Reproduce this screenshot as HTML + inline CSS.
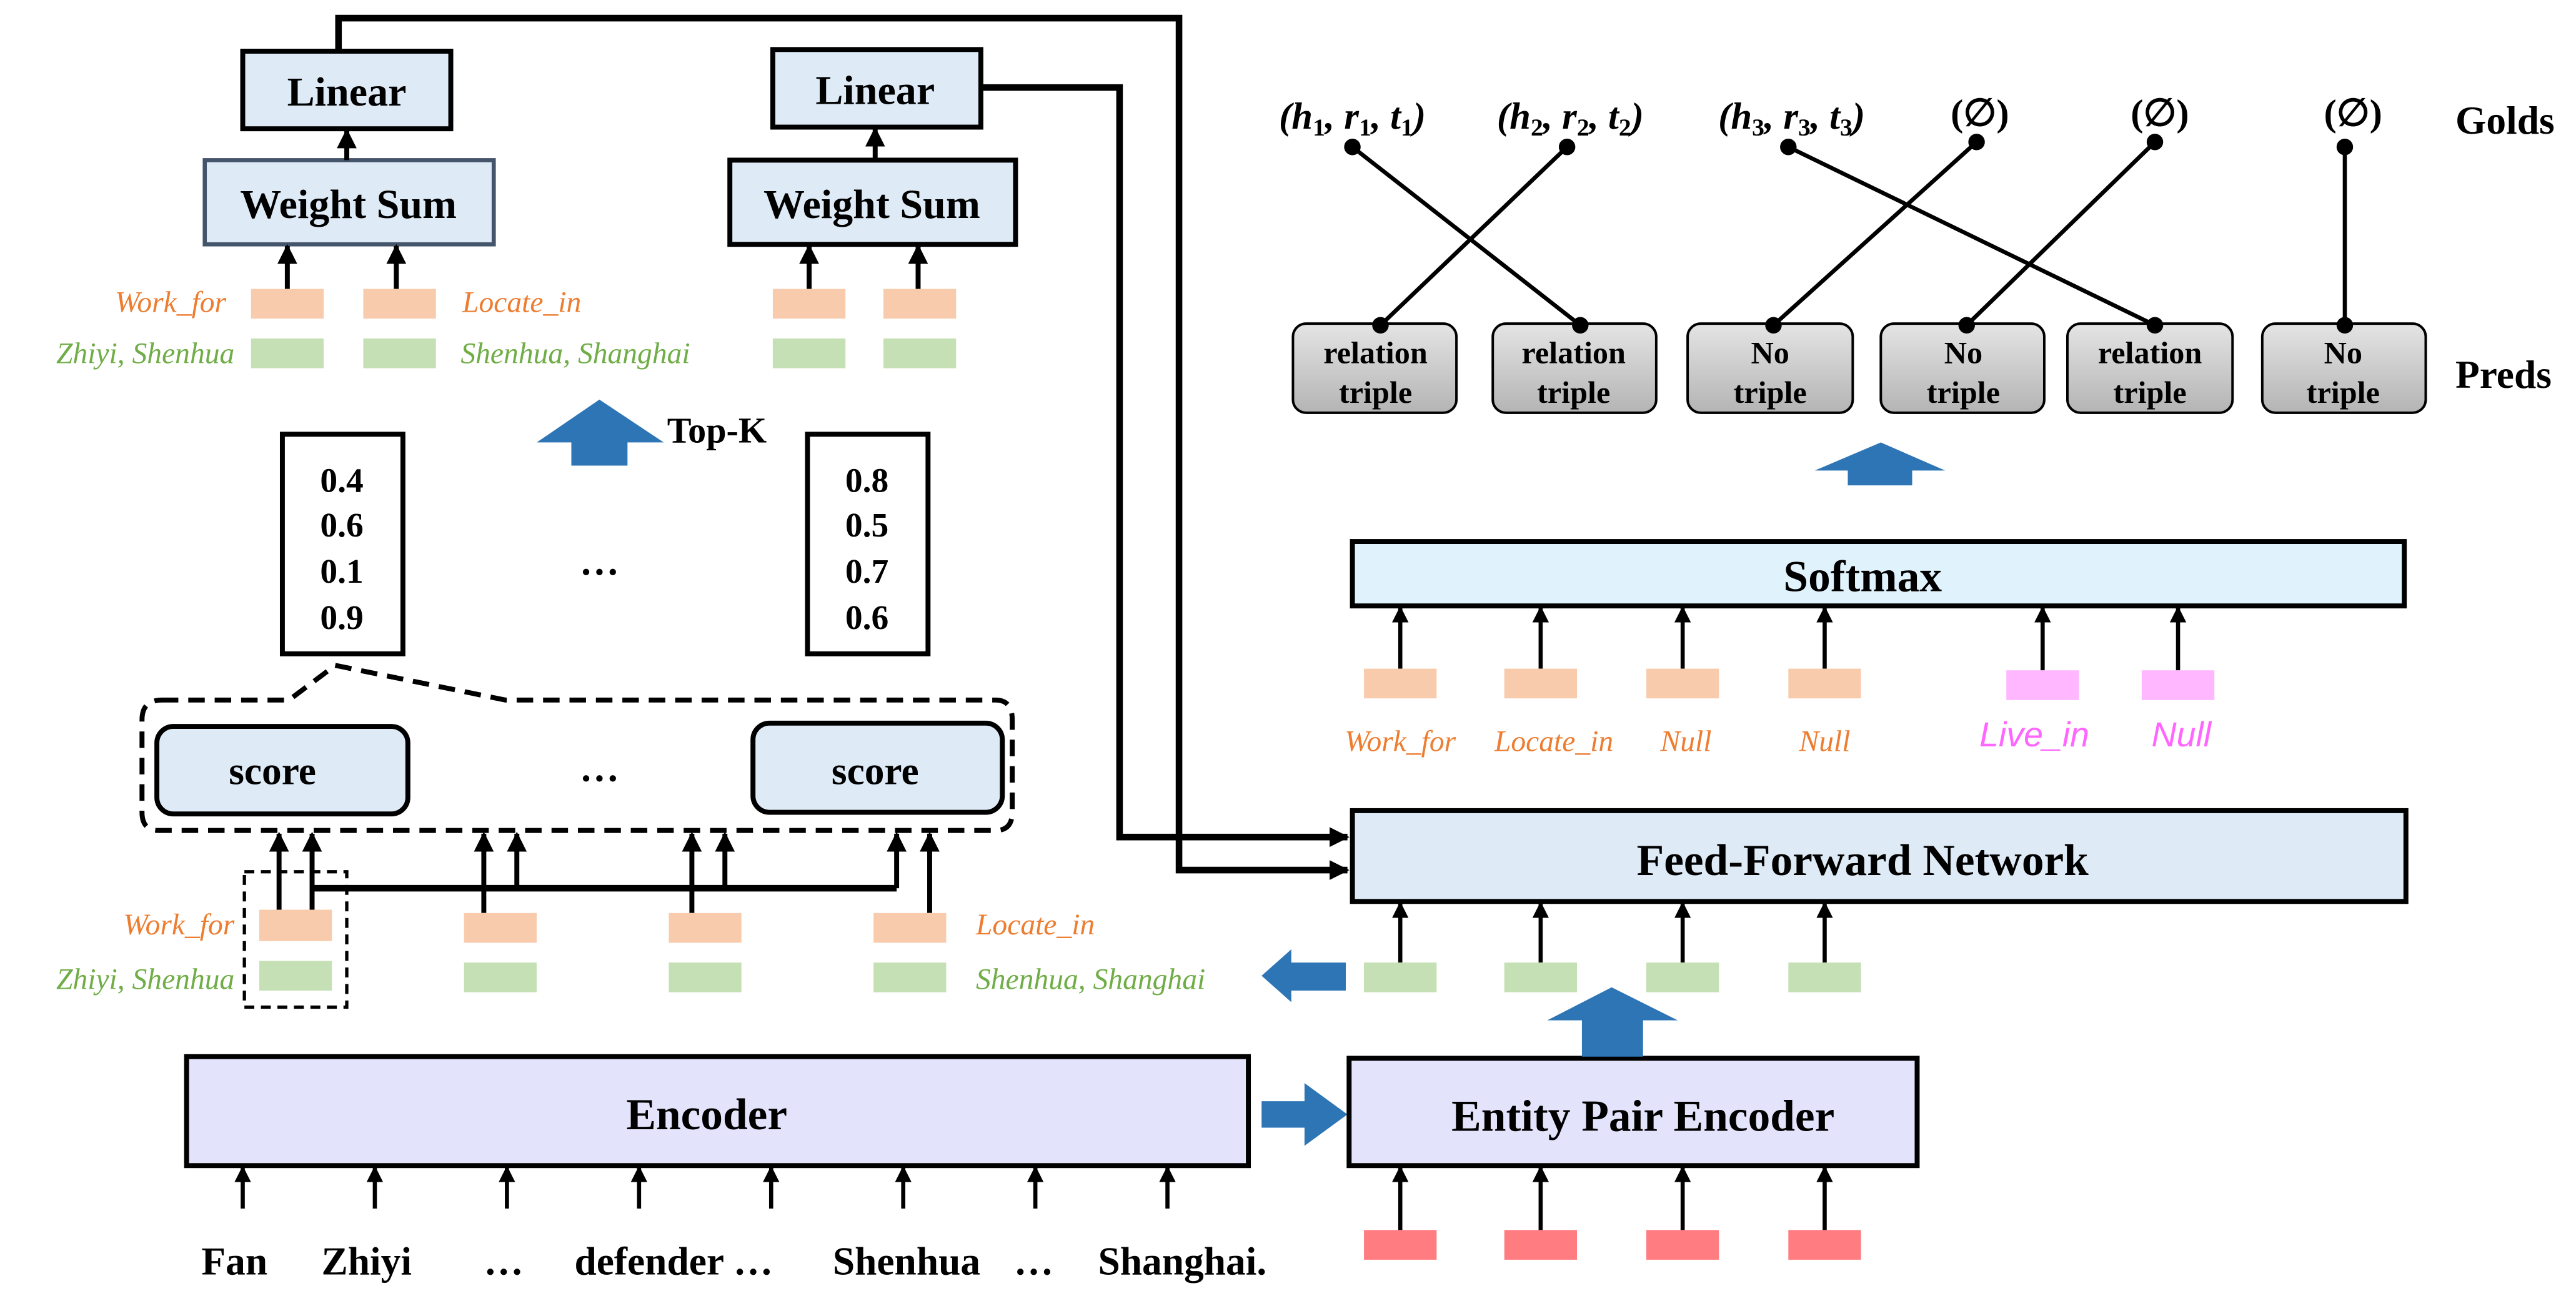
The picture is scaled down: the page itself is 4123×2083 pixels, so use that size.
<!DOCTYPE html>
<html><head><meta charset="utf-8"><style>
html,body{margin:0;padding:0;background:#fff;}
svg{display:block;}
.b{font-family:"Liberation Serif",serif;font-weight:bold;fill:#000;}
.o{font-family:"Liberation Serif",serif;font-style:italic;fill:#ed7d31;font-size:18px;}
.g{font-family:"Liberation Serif",serif;font-style:italic;fill:#70ad47;font-size:18px;}
.p{font-family:"Liberation Sans",sans-serif;font-style:italic;fill:#ff66ff;font-size:21px;}
.m{font-family:"Liberation Serif",serif;font-style:italic;font-weight:bold;font-size:23px;}
</style></head><body>
<svg width="4123" height="2083" viewBox="0 0 1560 788" preserveAspectRatio="none" xmlns="http://www.w3.org/2000/svg">
<defs>
<marker id="ah" viewBox="0 0 10 10" refX="9" refY="5" markerWidth="4" markerHeight="5" orient="auto" markerUnits="strokeWidth"><path d="M0,0L10,5L0,10z" fill="#000"/></marker>
<marker id="ah2" viewBox="0 0 10 10" refX="9" refY="5" markerWidth="3" markerHeight="3.5" orient="auto" markerUnits="strokeWidth"><path d="M0,0L10,5L0,10z" fill="#000"/></marker>
<linearGradient id="gr" x1="0" y1="0" x2="0" y2="1"><stop offset="0" stop-color="#e4e4e4"/><stop offset="1" stop-color="#b4b4b4"/></linearGradient>
</defs>

<polyline points="205,31 205,11 714,11 714,527 816,527" fill="none" stroke="#000" stroke-width="4" marker-end="url(#ah2)"/>
<polyline points="594,53 678,53 678,507 816,507" fill="none" stroke="#000" stroke-width="4" marker-end="url(#ah2)"/>

<rect x="147" y="31" width="126" height="47" fill="#deeaf6" stroke="#000" stroke-width="3"/>
<text x="210" y="64" class="b" font-size="25" text-anchor="middle">Linear</text>
<rect x="124" y="97" width="175" height="51" fill="#deeaf6" stroke="#44546a" stroke-width="2.5"/>
<text x="211" y="132" class="b" font-size="25" text-anchor="middle">Weight Sum</text>
<line x1="210" y1="97" x2="210" y2="79" stroke="#000" stroke-width="3" marker-end="url(#ah)"/>
<line x1="174" y1="175" x2="174" y2="149" stroke="#000" stroke-width="3" marker-end="url(#ah)"/>
<line x1="240" y1="175" x2="240" y2="149" stroke="#000" stroke-width="3" marker-end="url(#ah)"/>
<rect x="152" y="175" width="44" height="18" fill="#f8cbad"/><rect x="220" y="175" width="44" height="18" fill="#f8cbad"/>
<rect x="152" y="205" width="44" height="18" fill="#c5e0b4"/><rect x="220" y="205" width="44" height="18" fill="#c5e0b4"/>
<text x="137" y="189" class="o" text-anchor="end">Work_for</text>
<text x="142" y="220" class="g" text-anchor="end">Zhiyi, Shenhua</text>
<text x="280" y="189" class="o">Locate_in</text>
<text x="279" y="220" class="g">Shenhua, Shanghai</text>

<rect x="468" y="30" width="126" height="47" fill="#deeaf6" stroke="#000" stroke-width="3"/>
<text x="530" y="63" class="b" font-size="25" text-anchor="middle">Linear</text>
<rect x="442" y="97" width="173" height="51" fill="#deeaf6" stroke="#000" stroke-width="3"/>
<text x="528" y="132" class="b" font-size="25" text-anchor="middle">Weight Sum</text>
<line x1="530" y1="97" x2="530" y2="78" stroke="#000" stroke-width="3" marker-end="url(#ah)"/>
<line x1="490" y1="175" x2="490" y2="149" stroke="#000" stroke-width="3" marker-end="url(#ah)"/>
<line x1="556" y1="175" x2="556" y2="149" stroke="#000" stroke-width="3" marker-end="url(#ah)"/>
<rect x="468" y="175" width="44" height="18" fill="#f8cbad"/><rect x="535" y="175" width="44" height="18" fill="#f8cbad"/>
<rect x="468" y="205" width="44" height="18" fill="#c5e0b4"/><rect x="535" y="205" width="44" height="18" fill="#c5e0b4"/>

<path d="M363,242 L402,268 L380,268 L380,282 L346,282 L346,268 L325,268 Z" fill="#2e75b6"/>
<text x="404" y="268" class="b" font-size="22">Top-K</text>

<rect x="171" y="263" width="73" height="133" fill="#fff" stroke="#000" stroke-width="3"/>
<g class="b" font-size="21" text-anchor="middle"><text x="207" y="298">0.4</text><text x="207" y="325">0.6</text><text x="207" y="353">0.1</text><text x="207" y="381">0.9</text></g>
<rect x="489" y="263" width="73" height="133" fill="#fff" stroke="#000" stroke-width="3"/>
<g class="b" font-size="21" text-anchor="middle"><text x="525" y="298">0.8</text><text x="525" y="325">0.5</text><text x="525" y="353">0.7</text><text x="525" y="381">0.6</text></g>
<text x="363" y="348" class="b" font-size="24" text-anchor="middle">…</text>

<path d="M98,424 L175,424 L203,403 L306,424 L603,424 Q613,424 613,436 L613,492 Q613,503 603,503 L96,503 Q86,503 86,492 L86,436 Q86,424 98,424 Z" fill="none" stroke="#000" stroke-width="3" stroke-dasharray="10,6"/>
<rect x="95" y="440" width="152" height="53" rx="10" fill="#deeaf6" stroke="#000" stroke-width="3"/>
<text x="165" y="475" class="b" font-size="24" text-anchor="middle">score</text>
<rect x="456" y="438" width="151" height="54" rx="10" fill="#deeaf6" stroke="#000" stroke-width="3"/>
<text x="530" y="475" class="b" font-size="24" text-anchor="middle">score</text>
<text x="363" y="473" class="b" font-size="24" text-anchor="middle">…</text>

<g stroke="#000" stroke-width="3" fill="none">
<line x1="189" y1="538" x2="543" y2="538" stroke-width="4"/>
<line x1="169" y1="551" x2="169" y2="505" marker-end="url(#ah)"/>
<line x1="189" y1="551" x2="189" y2="505" marker-end="url(#ah)"/>
<line x1="293" y1="553" x2="293" y2="505" marker-end="url(#ah)"/>
<line x1="313" y1="538" x2="313" y2="505" marker-end="url(#ah)"/>
<line x1="419" y1="553" x2="419" y2="505" marker-end="url(#ah)"/>
<line x1="439" y1="538" x2="439" y2="505" marker-end="url(#ah)"/>
<line x1="543" y1="538" x2="543" y2="505" marker-end="url(#ah)"/>
<line x1="563" y1="553" x2="563" y2="505" marker-end="url(#ah)"/>
</g>
<rect x="157" y="551" width="44" height="19" fill="#f8cbad"/><rect x="281" y="553" width="44" height="18" fill="#f8cbad"/><rect x="405" y="553" width="44" height="18" fill="#f8cbad"/><rect x="529" y="553" width="44" height="18" fill="#f8cbad"/>
<rect x="157" y="582" width="44" height="18" fill="#c5e0b4"/><rect x="281" y="583" width="44" height="18" fill="#c5e0b4"/><rect x="405" y="583" width="44" height="18" fill="#c5e0b4"/><rect x="529" y="583" width="44" height="18" fill="#c5e0b4"/>
<rect x="148" y="528" width="62" height="82" fill="none" stroke="#000" stroke-width="2" stroke-dasharray="6,4"/>
<text x="142" y="566" class="o" text-anchor="end">Work_for</text>
<text x="142" y="599" class="g" text-anchor="end">Zhiyi, Shenhua</text>
<text x="591" y="566" class="o">Locate_in</text>
<text x="591" y="599" class="g">Shenhua, Shanghai</text>

<path d="M764,591 L782,575 L782,583 L815,583 L815,600 L782,600 L782,607 Z" fill="#2e75b6"/>

<rect x="113" y="640" width="643" height="66" fill="#e3e3fb" stroke="#000" stroke-width="3"/>
<text x="428" y="684" class="b" font-size="27" text-anchor="middle">Encoder</text>
<g stroke="#000" stroke-width="2.5">
<line x1="147" y1="732" x2="147" y2="707" marker-end="url(#ah)"/><line x1="227" y1="732" x2="227" y2="707" marker-end="url(#ah)"/>
<line x1="307" y1="732" x2="307" y2="707" marker-end="url(#ah)"/><line x1="387" y1="732" x2="387" y2="707" marker-end="url(#ah)"/>
<line x1="467" y1="732" x2="467" y2="707" marker-end="url(#ah)"/><line x1="547" y1="732" x2="547" y2="707" marker-end="url(#ah)"/>
<line x1="627" y1="732" x2="627" y2="707" marker-end="url(#ah)"/><line x1="707" y1="732" x2="707" y2="707" marker-end="url(#ah)"/>
</g>
<g class="b" font-size="24" text-anchor="middle">
<text x="142" y="772">Fan</text><text x="222" y="772">Zhiyi</text><text x="305" y="772">…</text>
<text x="408" y="772">defender …</text><text x="549" y="772">Shenhua</text><text x="626" y="772">…</text><text x="716" y="772">Shanghai.</text>
</g>

<path d="M764,667 L790,667 L790,656 L816,675 L790,694 L790,683 L764,683 Z" fill="#2e75b6"/>

<rect x="817" y="641" width="344" height="65" fill="#e3e3fb" stroke="#000" stroke-width="3"/>
<text x="995" y="685" class="b" font-size="27" text-anchor="middle">Entity Pair Encoder</text>
<g stroke="#000" stroke-width="2.5">
<line x1="848" y1="745" x2="848" y2="707" marker-end="url(#ah)"/><line x1="933" y1="745" x2="933" y2="707" marker-end="url(#ah)"/>
<line x1="1019" y1="745" x2="1019" y2="707" marker-end="url(#ah)"/><line x1="1105" y1="745" x2="1105" y2="707" marker-end="url(#ah)"/>
</g>
<rect x="826" y="745" width="44" height="18" fill="#ff7c80"/><rect x="911" y="745" width="44" height="18" fill="#ff7c80"/><rect x="997" y="745" width="44" height="18" fill="#ff7c80"/><rect x="1083" y="745" width="44" height="18" fill="#ff7c80"/>

<path d="M976,598 L1016,618 L995,618 L995,640 L958,640 L958,618 L937,618 Z" fill="#2e75b6"/>

<g stroke="#000" stroke-width="2.5">
<line x1="848" y1="583" x2="848" y2="547" marker-end="url(#ah)"/><line x1="933" y1="583" x2="933" y2="547" marker-end="url(#ah)"/>
<line x1="1019" y1="583" x2="1019" y2="547" marker-end="url(#ah)"/><line x1="1105" y1="583" x2="1105" y2="547" marker-end="url(#ah)"/>
</g>
<rect x="826" y="583" width="44" height="18" fill="#c5e0b4"/><rect x="911" y="583" width="44" height="18" fill="#c5e0b4"/><rect x="997" y="583" width="44" height="18" fill="#c5e0b4"/><rect x="1083" y="583" width="44" height="18" fill="#c5e0b4"/>

<rect x="819" y="491" width="638" height="55" fill="#deeaf6" stroke="#000" stroke-width="3"/>
<text x="1128" y="530" class="b" font-size="27" text-anchor="middle">Feed-Forward Network</text>

<g stroke="#000" stroke-width="2.5">
<line x1="848" y1="405" x2="848" y2="368" marker-end="url(#ah)"/><line x1="933" y1="405" x2="933" y2="368" marker-end="url(#ah)"/>
<line x1="1019" y1="405" x2="1019" y2="368" marker-end="url(#ah)"/><line x1="1105" y1="405" x2="1105" y2="368" marker-end="url(#ah)"/>
<line x1="1237" y1="406" x2="1237" y2="368" marker-end="url(#ah)"/><line x1="1319" y1="406" x2="1319" y2="368" marker-end="url(#ah)"/>
</g>
<rect x="826" y="405" width="44" height="18" fill="#f8cbad"/><rect x="911" y="405" width="44" height="18" fill="#f8cbad"/><rect x="997" y="405" width="44" height="18" fill="#f8cbad"/><rect x="1083" y="405" width="44" height="18" fill="#f8cbad"/>
<rect x="1215" y="406" width="44" height="18" fill="#ffb7ff"/><rect x="1297" y="406" width="44" height="18" fill="#ffb7ff"/>
<text x="848" y="455" class="o" text-anchor="middle">Work_for</text>
<text x="941" y="455" class="o" text-anchor="middle">Locate_in</text>
<text x="1021" y="455" class="o" text-anchor="middle">Null</text>
<text x="1105" y="455" class="o" text-anchor="middle">Null</text>
<text x="1232" y="452" class="p" text-anchor="middle">Live_in</text>
<text x="1321" y="452" class="p" text-anchor="middle">Null</text>

<rect x="819" y="328" width="637" height="39" fill="#e0f3fc" stroke="#000" stroke-width="3"/>
<text x="1128" y="358" class="b" font-size="27" text-anchor="middle">Softmax</text>

<path d="M1139,268 L1178,285 L1158,285 L1158,294 L1119,294 L1119,285 L1099,285 Z" fill="#2e75b6"/>

<g stroke="#000" stroke-width="1.5" fill="url(#gr)">
<rect x="783" y="196" width="99" height="54" rx="8"/><rect x="904" y="196" width="99" height="54" rx="8"/>
<rect x="1022" y="196" width="100" height="54" rx="8"/><rect x="1139" y="196" width="99" height="54" rx="8"/>
<rect x="1252" y="196" width="100" height="54" rx="8"/><rect x="1370" y="196" width="99" height="54" rx="8"/>
</g>
<g class="b" font-size="19" text-anchor="middle">
<text x="833" y="220">relation</text><text x="833" y="244">triple</text>
<text x="953" y="220">relation</text><text x="953" y="244">triple</text>
<text x="1072" y="220">No</text><text x="1072" y="244">triple</text>
<text x="1189" y="220">No</text><text x="1189" y="244">triple</text>
<text x="1302" y="220">relation</text><text x="1302" y="244">triple</text>
<text x="1419" y="220">No</text><text x="1419" y="244">triple</text>
</g>

<g stroke="#000" stroke-width="2.5">
<line x1="819" y1="89" x2="957" y2="197"/><line x1="949" y1="89" x2="836" y2="197"/>
<line x1="1083" y1="89" x2="1305" y2="197"/><line x1="1197" y1="86" x2="1074" y2="197"/>
<line x1="1305" y1="86" x2="1191" y2="197"/><line x1="1420" y1="89" x2="1420" y2="197"/>
</g>
<g fill="#000">
<circle cx="819" cy="89" r="5"/><circle cx="949" cy="89" r="5"/><circle cx="1083" cy="89" r="5"/>
<circle cx="1197" cy="86" r="5"/><circle cx="1305" cy="86" r="5"/><circle cx="1420" cy="89" r="5"/>
<circle cx="836" cy="197" r="5"/><circle cx="957" cy="197" r="5"/><circle cx="1074" cy="197" r="5"/>
<circle cx="1191" cy="197" r="5"/><circle cx="1305" cy="197" r="5"/><circle cx="1420" cy="197" r="5"/>
</g>

<g class="m" text-anchor="middle">
<text x="819" y="78">(h<tspan font-size="15" dy="4" font-style="normal">1</tspan><tspan dy="-4">, r</tspan><tspan font-size="15" dy="4" font-style="normal">1</tspan><tspan dy="-4">, t</tspan><tspan font-size="15" dy="4" font-style="normal">1</tspan><tspan dy="-4">)</tspan></text>
<text x="951" y="78">(h<tspan font-size="15" dy="4" font-style="normal">2</tspan><tspan dy="-4">, r</tspan><tspan font-size="15" dy="4" font-style="normal">2</tspan><tspan dy="-4">, t</tspan><tspan font-size="15" dy="4" font-style="normal">2</tspan><tspan dy="-4">)</tspan></text>
<text x="1085" y="78">(h<tspan font-size="15" dy="4" font-style="normal">3</tspan><tspan dy="-4">, r</tspan><tspan font-size="15" dy="4" font-style="normal">3</tspan><tspan dy="-4">, t</tspan><tspan font-size="15" dy="4" font-style="normal">3</tspan><tspan dy="-4">)</tspan></text>
<text x="1199" y="76" font-style="normal">(∅)</text>
<text x="1308" y="76" font-style="normal">(∅)</text>
<text x="1425" y="76" font-style="normal">(∅)</text>
</g>
<text x="1487" y="81" class="b" font-size="24">Golds</text>
<text x="1487" y="235" class="b" font-size="24">Preds</text>
</svg>
</body></html>
